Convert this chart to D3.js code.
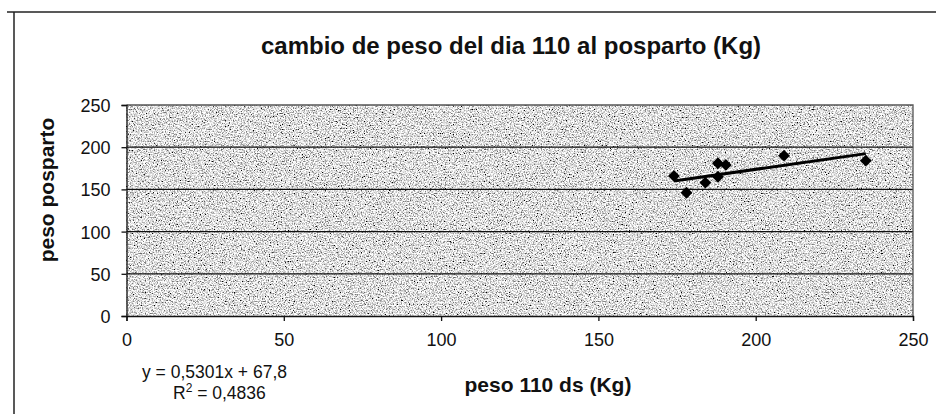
<!DOCTYPE html>
<html>
<head>
<meta charset="utf-8">
<script src="https://cdn.jsdelivr.net/npm/d3@7"></script>
<style>
  html, body { margin: 0; padding: 0; background: #fff; }
  svg { display: block; font-family: "Liberation Sans", Arial, sans-serif; }
</style>
</head>
<body>
<svg id="chart" width="936" height="414"></svg>
<script>
// ---- data ----
const peso110 = [174, 178, 184, 188, 190.5, 188, 209, 235];
const pesoPosparto = [166, 146, 158, 181, 179, 165, 190, 184];
const xTicks = [0, 50, 100, 150, 200, 250];
const yTicks = [0, 50, 100, 150, 200, 250];
const trendSlope = 0.5301;
const trendIntercept = 67.8;
const titleText = "cambio de peso del dia 110 al posparto (Kg)";
const xLabel = "peso 110 ds (Kg)";
const yLabel = "peso posparto";
const eqText = "y = 0,5301x + 67,8";
const r2Value = "0,4836";

const svg = d3.select("#chart");
const W = 936, H = 414;
const plot = { left: 126.5, right: 913, top: 105, bottom: 316 };

const x = d3.scaleLinear().domain([0, 250]).range([plot.left, plot.right]);
const y = d3.scaleLinear().domain([0, 250]).range([plot.bottom, plot.top]);

// texture filter for plot area
const defs = svg.append("defs");
const f = defs.append("filter").attr("id", "grain")
  .attr("x", 0).attr("y", 0).attr("width", "100%").attr("height", "100%");
f.append("feTurbulence").attr("type", "fractalNoise")
  .attr("baseFrequency", 0.75).attr("numOctaves", 3).attr("seed", 7).attr("result", "t");
f.append("feColorMatrix").attr("type", "matrix")
  .attr("values", "2.6 0 0 0 -0.56  2.6 0 0 0 -0.56  2.6 0 0 0 -0.56  0 0 0 0 1");

// outer frame lines
svg.append("line").attr("x1", 7).attr("x2", W).attr("y1", 12).attr("y2", 12)
  .attr("stroke", "#222").attr("stroke-width", 1.5);
svg.append("line").attr("x1", 14).attr("x2", 14).attr("y1", 12).attr("y2", H)
  .attr("stroke", "#222").attr("stroke-width", 1.5);

// plot background
svg.append("rect")
  .attr("x", plot.left).attr("y", plot.top)
  .attr("width", plot.right - plot.left).attr("height", plot.bottom - plot.top)
  .attr("fill", "#bbb")
  .attr("filter", "url(#grain)");

// grid lines
svg.append("g").selectAll("line").data(yTicks.filter(d => d > 0 && d < 250)).join("line")
  .attr("x1", plot.left).attr("x2", plot.right)
  .attr("y1", d => y(d)).attr("y2", d => y(d))
  .attr("stroke", "#111").attr("stroke-width", 1.3);

// plot border (top & right)
svg.append("path")
  .attr("d", `M${plot.left},${plot.top}H${plot.right}V${plot.bottom}`)
  .attr("fill", "none").attr("stroke", "#555").attr("stroke-width", 1.3);

// axes
const xAxis = d3.axisBottom(x).tickValues(xTicks).tickSize(5).tickPadding(12).tickFormat(d3.format("d"));
const gx = svg.append("g").attr("transform", `translate(0,${plot.bottom})`).call(xAxis);
const yAxis = d3.axisLeft(y).tickValues(yTicks).tickSize(5).tickPadding(11).tickFormat(d3.format("d"));
const gy = svg.append("g").attr("transform", `translate(${plot.left},0)`).call(yAxis);
[gx, gy].forEach(g => {
  g.select(".domain").attr("stroke", "#111").attr("stroke-width", 1.3);
  g.selectAll(".tick line").attr("stroke", "#111").attr("stroke-width", 1.3);
  g.selectAll(".tick text").attr("font-size", 18).attr("fill", "#111")
    .attr("font-family", "'Liberation Sans', Arial, sans-serif");
});
gx.selectAll(".tick text").attr("dy", "0.71em");
gy.selectAll(".tick text").attr("dy", "0.36em");

// trendline
const xMin = d3.min(peso110), xMax = d3.max(peso110);
svg.append("line")
  .attr("x1", x(xMin)).attr("y1", y(trendSlope * xMin + trendIntercept))
  .attr("x2", x(xMax)).attr("y2", y(trendSlope * xMax + trendIntercept))
  .attr("stroke", "#000").attr("stroke-width", 3);

// points
const pts = peso110.map((v, i) => [v, pesoPosparto[i]]);
svg.append("g").selectAll("path").data(pts).join("path")
  .attr("d", d3.symbol().type(d3.symbolSquare).size(70))
  .attr("transform", d => `translate(${x(d[0])},${y(d[1])}) rotate(45)`)
  .attr("fill", "#000");

// title
svg.append("text")
  .attr("x", 511).attr("y", 54)
  .attr("text-anchor", "middle")
  .attr("font-size", 24).attr("font-weight", "bold")
  .attr("fill", "#111")
  .text(titleText);

// axis titles
svg.append("text")
  .attr("x", 548).attr("y", 392)
  .attr("text-anchor", "middle")
  .attr("font-size", 21).attr("font-weight", "bold").attr("fill", "#111")
  .text(xLabel);
svg.append("text")
  .attr("transform", `translate(54,190) rotate(-90)`)
  .attr("text-anchor", "middle")
  .attr("font-size", 21).attr("font-weight", "bold").attr("fill", "#111")
  .text(yLabel);

// equation
svg.append("text")
  .attr("x", 142).attr("y", 378)
  .attr("font-size", 17.5).attr("fill", "#111")
  .text(eqText);
const r2 = svg.append("text")
  .attr("x", 173).attr("y", 399)
  .attr("font-size", 17.5).attr("fill", "#111");
r2.append("tspan").text("R");
r2.append("tspan").attr("font-size", 12).attr("dy", -7).text("2");
r2.append("tspan").attr("dy", 7).text(" = " + r2Value);
</script>
</body>
</html>
